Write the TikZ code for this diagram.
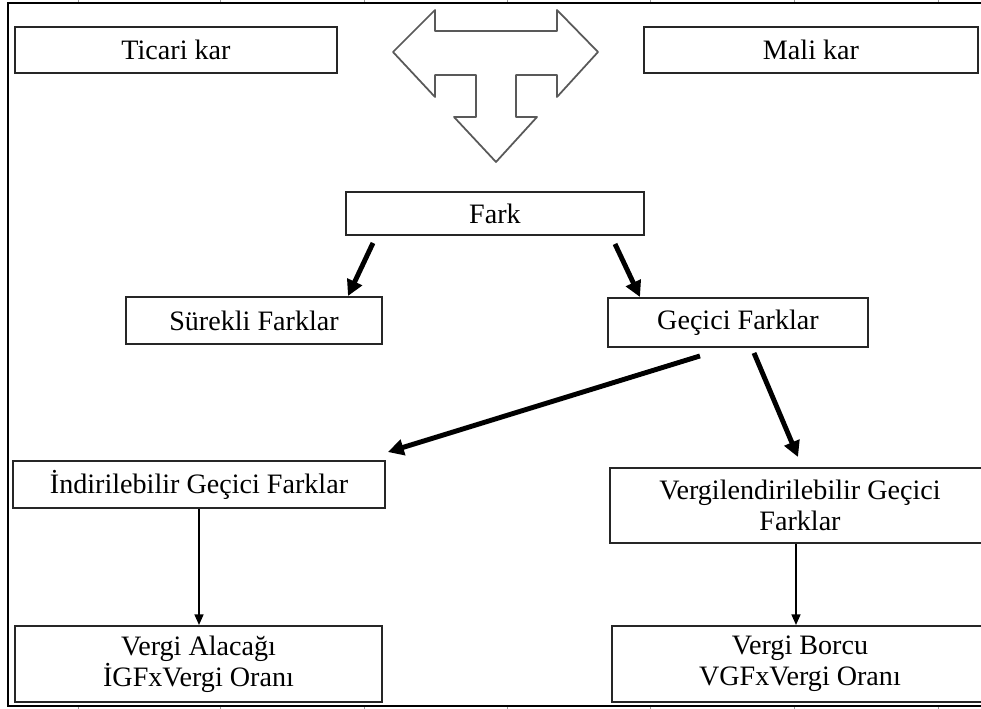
\documentclass[tikz,border=0pt]{standalone}
\usepackage{fontspec}
\setmainfont{Liberation Serif}
\usetikzlibrary{arrows.meta,calc}

\begin{document}
\begin{tikzpicture}[x=0.02cm,y=-0.02cm,
  kutu/.style={draw=black!85,line width=1.1pt,fill=white,inner sep=0pt,
    font=\fontsize{16}{17.5}\selectfont,align=center},
  kalinok/.style={line width=2.8pt,-{Triangle[length=9pt,width=9pt]}},
  inceok/.style={line width=1.1pt,-{Triangle[length=6pt,width=5pt]}}]
\useasboundingbox (0,0) rectangle (981,709);
\clip (0,0) rectangle (981,709);

% frame
\foreach \t in {78,220,364,507,650,794,938}{
  \draw[black!40,line width=0.4pt] (\t,0) -- (\t,3);
  \draw[black!40,line width=0.4pt] (\t,706) -- (\t,709);
}
\draw[line width=1.6pt] (981,3) -- (8,3) -- (8,706) -- (981,706);

\node[kutu,minimum width=6.44cm,minimum height=0.92cm] (ticari) at (176,50) {Ticari kar};
\node[kutu,minimum width=6.68cm,minimum height=0.92cm] (mali) at (811,50) {Mali kar};

% T arrow
\draw[black!65,line width=1pt,line join=round,fill=white]
  (393,52) -- (435,10) -- (435,31) -- (557,31) -- (557,10) -- (598,52)
  -- (557,97) -- (557,75) -- (516,75) -- (516,117) -- (537,117) -- (496,162)
  -- (454,117) -- (476,117) -- (476,75) -- (435,75) -- (435,97) -- cycle;

\node[kutu,minimum width=5.96cm,minimum height=0.86cm] (fark) at (495,213.5) {Fark};
\node[kutu,minimum width=5.12cm,minimum height=0.94cm] (surekli) at (254,320.5) {Sürekli Farklar};
\node[kutu,minimum width=5.2cm,minimum height=0.98cm] (gecici) at (738,322.5) {Geçici Farklar};
\node[kutu,minimum width=7.44cm,minimum height=0.94cm] (indir) at (199,484.5) {İndirilebilir Geçici Farklar};
\node[kutu,minimum width=7.6cm,minimum height=1.5cm] (vergilen) at (800,505.5)
  {Vergilendirilebilir Geçici\\Farklar};
\node[kutu,minimum width=7.34cm,minimum height=1.52cm] (alacak) at (198.5,664)
  {Vergi Alacağı\\İGFxVergi Oranı};
\node[kutu,minimum width=7.52cm,minimum height=1.52cm] (borc) at (800,664)
  {Vergi Borcu\\VGFxVergi Oranı};

\draw[kalinok] ($(fark.south)+(-122,7)$) -- ($(surekli.north)+(94,0)$);
\draw[kalinok] ($(fark.south)+(120,8)$) -- ($(gecici.north)+(-98,0)$);
\draw[kalinok] ($(gecici.south)+(-38,8)$) -- ($(indir.north east)+(2,-8)$);
\draw[kalinok] ($(gecici.south)+(16,5)$) -- ($(vergilen.north)+(-2,-10)$);

\draw[inceok] (indir.south) -- (indir.south |- alacak.north);
\draw[inceok] ($(vergilen.south)+(-4,0)$) -- ($(borc.north)+(-4,0)$);
\end{tikzpicture}
\end{document}
